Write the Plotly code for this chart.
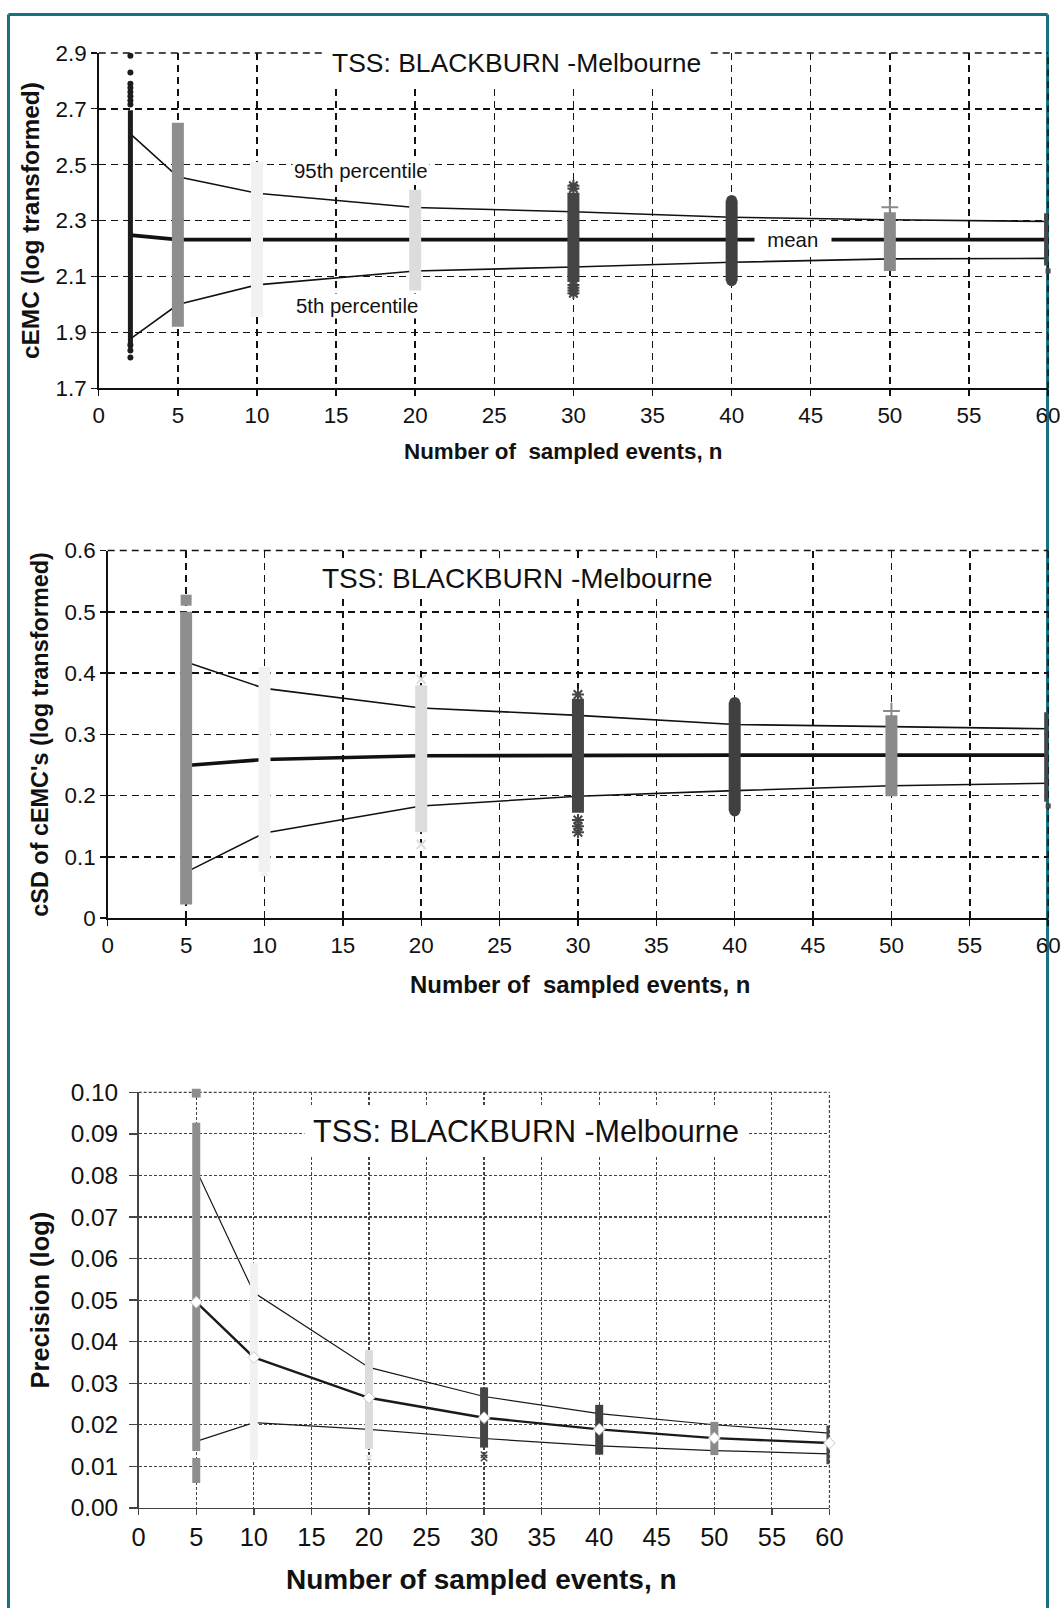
import plotly.graph_objects as go

# ---------------- data ----------------
x_tick_vals = list(range(0, 61, 5))

# Panel 1: cEMC (log transformed)
n_cemc = [2, 5, 10, 20, 30, 40, 50, 60]
cemc_mean = [2.248, 2.232, 2.232, 2.232, 2.232, 2.232, 2.232, 2.232]
cemc_p95 = [2.610, 2.457, 2.398, 2.347, 2.332, 2.312, 2.303, 2.297]
cemc_p05 = [1.877, 2.000, 2.070, 2.120, 2.134, 2.151, 2.163, 2.165]
cemc_sim_min = [1.845, 1.920, 1.955, 2.050, 2.080, 2.085, 2.120, 2.139]
cemc_sim_max = [2.695, 2.650, 2.510, 2.410, 2.400, 2.372, 2.330, 2.326]
cemc_out_n = [2, 2, 2, 2, 2, 2, 2, 2, 2, 2, 2, 30, 30, 30, 30, 30, 30, 40, 40, 50, 60]
cemc_out_v = [2.89, 2.83, 2.79, 2.775, 2.76, 2.745, 2.73, 2.715, 1.855, 1.835, 1.81,
              2.425, 2.415, 2.07, 2.06, 2.05, 2.04, 2.372, 2.085, 2.348, 2.12]

# Panel 2: cSD of cEMC's (log transformed)
n_csd = [5, 10, 20, 30, 40, 50, 60]
csd_mean = [0.249, 0.259, 0.265, 0.266, 0.266, 0.266, 0.266]
csd_p95 = [0.418, 0.375, 0.343, 0.331, 0.316, 0.313, 0.309]
csd_p05 = [0.075, 0.139, 0.183, 0.199, 0.208, 0.216, 0.220]
csd_sim_min = [0.022, 0.075, 0.140, 0.172, 0.175, 0.199, 0.190]
csd_sim_max = [0.500, 0.410, 0.380, 0.358, 0.352, 0.331, 0.336]
csd_out_n = [5, 10, 20, 20, 30, 30, 30, 30, 40, 40, 50, 60]
csd_out_v = [0.519, 0.072, 0.390, 0.120, 0.365, 0.160, 0.150, 0.140, 0.352, 0.175, 0.338, 0.183]

# Panel 3: Precision (log)
n_prec = [5, 10, 20, 30, 40, 50, 60]
prec_mean = [0.0495, 0.0362, 0.0265, 0.0217, 0.0189, 0.0168, 0.0156]
prec_p95 = [0.0813, 0.0518, 0.0338, 0.0268, 0.0227, 0.0200, 0.0180]
prec_p05 = [0.0160, 0.0205, 0.0189, 0.0167, 0.0149, 0.0138, 0.0130]
prec_sim_min = [0.0137, 0.0115, 0.0142, 0.0145, 0.0128, 0.0127, 0.0105]
prec_sim_max = [0.0927, 0.0590, 0.0380, 0.0290, 0.0248, 0.0207, 0.0198]
prec_low_n = [5]
prec_low_min = [0.0060]
prec_low_max = [0.0120]
prec_out_n = [5, 20, 30, 30]
prec_out_v = [0.0998, 0.0120, 0.0128, 0.0120]

title_text = "TSS: BLACKBURN -Melbourne"

# ---------------- styling ----------------
W, H = 1063, 1622
FONT = "Liberation Sans, Arial, sans-serif"
# the photographed page appears scaled/offset; place everything in picture pixels
S, OX, OY = 0.982, 5.07, 14.17
FS = 1.0 / S

bar_colors = {2: "#1c1c1c", 5: "#8e8e8e", 10: "#f1f1f1", 20: "#dcdcdc",
              30: "#454545", 40: "#404040", 50: "#8a8a8a", 60: "#474747"}
out_style = {2: ("circle", 6, 0), 5: ("square", 11, 0), 10: ("triangle-up", 9, 0),
             20: ("x-thin-open", 9, 2), 30: ("asterisk-open", 10, 2), 40: ("circle", 11, 0),
             50: ("cross-thin-open", 12, 2), 60: ("square", 5, 0)}
out_style_p3 = dict(out_style)
out_style_p3[30] = ("x-thin-open", 8, 1.5)
out_style_p3[20] = ("x-thin-open", 7, 1.5)

# picture-pixel boxes of the three plot areas: left, right, top, bottom
boxes = {1: (97, 1048, 54, 389), 2: (106, 1049, 551, 918), 3: (137, 829, 1092, 1507)}


def clamp(v, lo=0.0, hi=1.0):
    return max(lo, min(hi, v))


def fx(p):
    return clamp(((p - OX) / S) / W, 0.0, 0.9992)


def fy(p):
    return clamp(1 - ((p - OY) / S) / H, 0.0, 0.9992)


def fsz(s):
    return s * FS


fig = go.Figure()


def add_panel(k, n, mean, p95, p05, lo, hi, out_n, out_v, bar_w, pct_w, mean_w,
              line_color, styles, msize_scale=1.0, diamonds=False, low_n=None,
              low_min=None, low_max=None):
    xa = "x" if k == 1 else f"x{k}"
    ya = "y" if k == 1 else f"y{k}"
    common = dict(xaxis=xa, yaxis=ya, showlegend=False, hoverinfo="skip")
    for series, w in ((p95, pct_w), (p05, pct_w), (mean, mean_w)):
        fig.add_trace(go.Scatter(x=n, y=series, mode="lines",
                                 line=dict(color=line_color, width=w), **common))
    for i, ni in enumerate(n):
        w = bar_w.get(ni, bar_w["default"])
        fig.add_trace(go.Scatter(x=[ni, ni], y=[lo[i], hi[i]], mode="lines",
                                 line=dict(color=bar_colors[ni], width=w), **common))
    if low_n:
        for i, ni in enumerate(low_n):
            w = bar_w.get(ni, bar_w["default"])
            fig.add_trace(go.Scatter(x=[ni, ni], y=[low_min[i], low_max[i]], mode="lines",
                                     line=dict(color=bar_colors[ni], width=w), **common))
    for ni in sorted(set(out_n)):
        xs = [a for a, b in zip(out_n, out_v) if a == ni]
        ys = [b for a, b in zip(out_n, out_v) if a == ni]
        sym, sz, lw = styles[ni]
        fig.add_trace(go.Scatter(
            x=xs, y=ys, mode="markers", cliponaxis=False,
            marker=dict(symbol=sym, size=sz * msize_scale, color=bar_colors[ni],
                        line=dict(color=bar_colors[ni], width=lw)), **common))
    if diamonds:
        fig.add_trace(go.Scatter(
            x=n, y=mean, mode="markers", cliponaxis=False,
            marker=dict(symbol="diamond", size=9, color="white",
                        line=dict(color="#c8c8c8", width=1)), **common))


add_panel(1, n_cemc, cemc_mean, cemc_p95, cemc_p05, cemc_sim_min, cemc_sim_max,
          cemc_out_n, cemc_out_v, {"default": 12, 2: 5, 60: 8}, 1.6, 3.6, "#111111",
          out_style)
add_panel(2, n_csd, csd_mean, csd_p95, csd_p05, csd_sim_min, csd_sim_max,
          csd_out_n, csd_out_v, {"default": 12, 60: 8}, 1.6, 3.6, "#111111", out_style)
add_panel(3, n_prec, prec_mean, prec_p95, prec_p05, prec_sim_min, prec_sim_max,
          prec_out_n, prec_out_v, {"default": 8, 60: 6}, 1.2, 2.4, "#1a1a1a",
          out_style_p3, msize_scale=0.8, diamonds=True, low_n=prec_low_n,
          low_min=prec_low_min, low_max=prec_low_max)


def axis_pair(k, yrange, ydtick, ytickformat, tickfont_x, tickfont_y, griddash, gridcolor,
              gridwidth, linecolor, yticklen=6, ystandoff=None):
    l, r, t, b = boxes[k]
    xa = dict(domain=[fx(l), fx(r)], anchor="y" if k == 1 else f"y{k}", range=[0, 60],
              tickmode="array", tickvals=x_tick_vals,
              showgrid=True, gridcolor=gridcolor, griddash=griddash, gridwidth=gridwidth,
              showline=True, linecolor=linecolor, linewidth=1.6, zeroline=False,
              ticks="outside", ticklen=6, tickwidth=1.4, tickcolor=linecolor,
              tickfont=dict(family=FONT, size=fsz(tickfont_x), color="#111"),
              fixedrange=True)
    ya = dict(domain=[fy(b), fy(t)], anchor="x" if k == 1 else f"x{k}", range=yrange,
              tick0=yrange[0], dtick=ydtick, tickformat=ytickformat,
              showgrid=True, gridcolor=gridcolor, griddash=griddash, gridwidth=gridwidth,
              showline=True, linecolor=linecolor, linewidth=1.6, zeroline=False,
              ticks="outside", ticklen=yticklen, tickwidth=1.4, tickcolor=linecolor,
              tickfont=dict(family=FONT, size=fsz(tickfont_y), color="#111"),
              fixedrange=True)
    if ystandoff is not None:
        ya["ticklabelstandoff"] = ystandoff
    return xa, ya


x1, y1 = axis_pair(1, [1.7, 2.9], 0.2, ".1f", 22, 22, "7px,5px", "#111", 1.5, "#111")
x2, y2 = axis_pair(2, [0, 0.6], 0.1, "", 22, 22, "7px,5px", "#111", 1.5, "#111")
x3, y3 = axis_pair(3, [0, 0.1], 0.01, ".2f", 25, 24, "3px,2px", "#444", 1.2, "#444",
                   yticklen=8, ystandoff=6)

annotations = []


def ann(text, x, y, size, bold=False, angle=0, bg=None, pad=1, xref="paper", yref="paper"):
    d = dict(text=f"<b>{text}</b>" if bold else text, x=x, y=y, xref=xref, yref=yref,
             showarrow=False, xanchor="center", yanchor="middle", textangle=angle,
             font=dict(family=FONT, size=fsz(size), color="#111"), borderpad=pad)
    if bg:
        d["bgcolor"] = bg
    annotations.append(d)


# panel titles
ann(title_text, fx(515), fy(64), 26, bg="white", pad=6)
ann(title_text, fx(516), fy(579), 27.5, bg="white", pad=2)
ann(title_text, fx(525), fy(1131), 30, bg="white", pad=8)

# line labels panel 1
ann("95th percentile", 16.6, 2.479, 20, bg="white", pad=1, xref="x", yref="y")
ann("5th percentile", 16.3, 1.995, 20, bg="white", pad=1, xref="x", yref="y")
ann("\u00a0\u00a0mean\u00a0\u00a0", 43.9, 2.232, 20, bg="white", pad=1, xref="x", yref="y")

# axis titles
ann("Number of\u00a0 sampled events, n", fx(563), fy(452), 22, bold=True)
ann("cEMC (log transformed)", fx(28), fy(221), 24, bold=True, angle=-90)
ann("Number of\u00a0 sampled events, n", fx(579), fy(984), 23.5, bold=True)
ann("cSD of cEMC's (log transformed)", fx(38), fy(734), 23, bold=True, angle=-90)
ann("Number of sampled events, n", fx(480), fy(1579), 27.5, bold=True)
ann("Precision (log)", fx(38), fy(1299), 25, bold=True, angle=-90)

teal = "#17707f"
lx = max(fx(3.5), 1.5 / W)
rx = min(fx(1058.5), 1 - 1.5 / W)
ty = min(fy(4), 1 - 1.5 / H)
shapes = [
    dict(type="line", xref="paper", yref="paper", x0=lx, x1=lx, y0=0, y1=ty,
         line=dict(color=teal, width=3)),
    dict(type="line", xref="paper", yref="paper", x0=lx, x1=rx, y0=ty, y1=ty,
         line=dict(color=teal, width=3)),
    dict(type="line", xref="paper", yref="paper", x0=rx, x1=rx, y0=0, y1=ty,
         line=dict(color=teal, width=3), layer="below"),
]
# dashed top / right frame of each plot area (grid lines at the range ends)
for k, (l, r, t, b) in boxes.items():
    dash = "3px,2px" if k == 3 else "7px,5px"
    col = "#444" if k == 3 else "#111"
    wid = 1.2 if k == 3 else 1.5
    shapes.append(dict(type="line", xref="paper", yref="paper", x0=fx(l), x1=fx(r),
                       y0=fy(t), y1=fy(t), line=dict(color=col, width=wid, dash=dash),
                       layer="below"))
    shapes.append(dict(type="line", xref="paper", yref="paper", x0=fx(r), x1=fx(r),
                       y0=fy(b), y1=fy(t), line=dict(color=col, width=wid, dash=dash),
                       layer="below"))

fig.update_layout(
    width=W, height=H, autosize=False,
    margin=dict(l=0, r=0, t=0, b=0, pad=0),
    paper_bgcolor="white", plot_bgcolor="white",
    xaxis=x1, yaxis=y1, xaxis2=x2, yaxis2=y2, xaxis3=x3, yaxis3=y3,
    annotations=annotations, shapes=shapes, hovermode=False,
    font=dict(family=FONT, color="#111"),
)

fig.write_html(
    "out.html",
    config={"displayModeBar": False, "staticPlot": True},
    post_script=(
        "document.documentElement.style.margin='0';"
        "document.body.style.margin='0';"
        "document.body.style.padding='0';"
        "document.documentElement.style.overflow='hidden';"
        "document.body.style.overflow='hidden';"
    ),
)
